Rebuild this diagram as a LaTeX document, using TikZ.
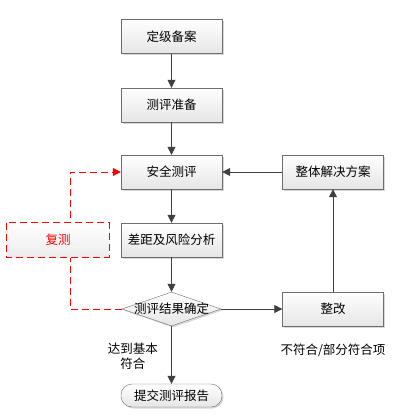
\documentclass[tikz,border=0pt]{standalone}
\usepackage{fontspec}
\setmainfont{Noto Sans CJK SC}
\usepackage{tikz}
\usetikzlibrary{arrows.meta,positioning,shapes.geometric,shadows,calc}
\definecolor{linegray}{HTML}{404040}
\definecolor{boxborder}{HTML}{6E6E6E}
\definecolor{loopred}{HTML}{FF0000}

\begin{document}
\begin{tikzpicture}[
    x=1pt, y=-1pt,
    >={Triangle[length=8pt, width=8pt]},
    every node/.style={font=\fontsize{12.5}{15}\selectfont},
    box/.style={draw=boxborder, minimum height=34pt, minimum width=101pt,
                align=center, top color=white, bottom color=gray!20,
                drop shadow={shadow xshift=1.5pt, shadow yshift=-1.5pt,
                             fill=gray!60, opacity=0.5}},
    decision/.style={box, diamond, inner sep=0pt, minimum width=99pt,
                     minimum height=34pt},
    terminal/.style={box, rounded corners=11pt, minimum height=23pt},
    retestbox/.style={top color=white, bottom color=gray!15,
                      text=loopred, minimum height=34pt, minimum width=102pt},
    redline/.style={draw=loopred, dash pattern=on 7pt off 4pt,
                    line width=1pt},
    arrow/.style={->, draw=linegray, line width=0.8pt},
    redarrow/.style={->, redline},
  ]
  \useasboundingbox (0,0) rectangle (408,420);

  % ── Main column ──
  \node[box] at (171.5, 36.5) (grade) {定级备案};
  \node[box] at (171.5, 105) (prep) {测评准备};
  \node[box] at (171.5, 172) (test) {安全测评};
  \node[box] at (171.5, 240) (gap) {差距及风险分析};
  \node[decision] at (171.5, 309) (decide) {\makebox[0pt]{测评结果确定}};
  \node[terminal] at (171.5, 395.5) (report) {提交测评报告};

  % ── Right column ──
  \node[box] at (333, 172) (plan) {整体解决方案};
  \node[box] at (333, 309) (fix) {整改};

  % ── Arrows ──
  \draw[arrow] (grade) -- (prep);
  \draw[arrow] (prep) -- (test);
  \draw[arrow] (test) -- (gap);
  \draw[arrow] (gap) -- (decide);
  \draw[arrow] (decide) -- node[left=10pt, pos=0.52, align=center]
    {达到基本\\符合} (report);
  \draw[arrow] (decide) -- (fix);
  \draw[arrow] (fix) -- (plan);
  \draw[arrow] (plan) -- (test);

  % ── Retest loop (dashed, red) ──
  \coordinate (loop) at (70, 240);
  \draw[redarrow] (decide.west) -| (loop) |- (test.west);
  \node[retestbox] at (58, 240) (retest) {复测};
  \draw[redline] (retest.north west) rectangle (retest.south east);

  % ── Labels ──
  \node[below=14pt of fix] (nonconf) {不符合/部分符合项};

\end{tikzpicture}
\end{document}
